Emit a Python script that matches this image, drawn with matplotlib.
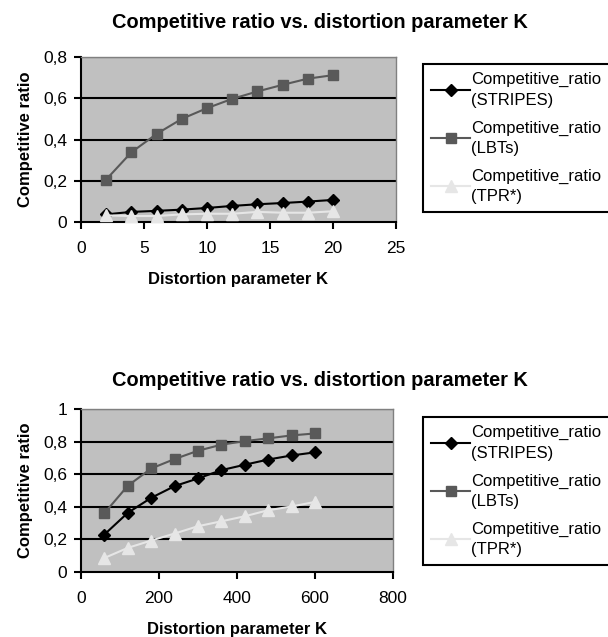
import matplotlib.pyplot as plt
from matplotlib.ticker import FuncFormatter

plt.rcParams['font.family'] = ['Liberation Sans', 'DejaVu Sans']

# top chart: small K
k_small = [2, 4, 6, 8, 10, 12, 14, 16, 18, 20]
stripes_small = [0.037, 0.049, 0.054, 0.060, 0.068, 0.078, 0.086, 0.092, 0.099, 0.107]
lbts_small = [0.206, 0.338, 0.427, 0.500, 0.552, 0.597, 0.633, 0.665, 0.695, 0.712]
tpr_small = [0.032, 0.029, 0.029, 0.037, 0.040, 0.040, 0.049, 0.045, 0.045, 0.052]

# bottom chart: large K
k_large = [60, 120, 180, 240, 300, 360, 420, 480, 540, 600]
stripes_large = [0.230, 0.363, 0.455, 0.527, 0.574, 0.625, 0.658, 0.690, 0.715, 0.734]
lbts_large = [0.361, 0.529, 0.635, 0.693, 0.744, 0.781, 0.803, 0.820, 0.838, 0.850]
tpr_large = [0.086, 0.148, 0.193, 0.236, 0.281, 0.311, 0.342, 0.379, 0.402, 0.430]

labels = ['Competitive_ratio\n(STRIPES)', 'Competitive_ratio\n(LBTs)', 'Competitive_ratio\n(TPR*)']
title = 'Competitive ratio vs. distortion parameter K'

W, H = 608, 637
fig = plt.figure(figsize=(W / 100, H / 100), dpi=100)


def comma(v, pos):
    s = ('%.1f' % v).rstrip('0').rstrip('.')
    return s.replace('.', ',')


def draw(rect, k, stripes, lbts, tpr, xmax, xstep, ymax, title_y, leg_top):
    ax = fig.add_axes(rect)
    ax.set_facecolor('#c0c0c0')
    h1, = ax.plot(k, stripes, color='black', lw=1.5, marker='D', ms=6, zorder=4)
    h2, = ax.plot(k, lbts, color='#595959', lw=1.5, marker='s', ms=7, zorder=4)
    h3, = ax.plot(k, tpr, color='#e6e6e6', lw=1.5, marker='^', ms=8, zorder=4)
    ax.set_xlim(0, xmax)
    ax.set_ylim(0, ymax)
    ax.set_xticks(range(0, xmax + 1, xstep))
    yt = [i * 0.2 for i in range(int(round(ymax / 0.2)) + 1)]
    ax.set_yticks(yt)
    ax.yaxis.set_major_formatter(FuncFormatter(comma))
    for y in yt[1:]:
        ax.axhline(y, color='black', lw=1.5, zorder=2)
    ax.tick_params(direction='out', length=5, width=1.5, labelsize=12.5)
    ax.tick_params(axis='x', pad=9)
    ax.tick_params(axis='y', pad=5)
    for s in ['left', 'bottom']:
        ax.spines[s].set_linewidth(1.5)
    for s in ['top', 'right']:
        ax.spines[s].set_color('#808080')
        ax.spines[s].set_linewidth(1)
    ax.set_xlabel('Distortion parameter K', fontsize=12, fontweight='bold', labelpad=11)
    ax.set_ylabel('Competitive ratio', fontsize=12, fontweight='bold', labelpad=7)
    fig.text(320 / W, 1 - title_y / H, title, fontsize=14.4, fontweight='bold',
             ha='center', va='center')
    leg = ax.legend([h1, h2, h3], labels, loc='upper left',
                    bbox_to_anchor=(423 / W, 1 - leg_top / H), bbox_transform=fig.transFigure,
                    fontsize=12, frameon=True, fancybox=False, edgecolor='black',
                    framealpha=1, handlelength=2.3, handletextpad=0.1, labelspacing=0.75,
                    borderpad=0.5, borderaxespad=0)
    for t in leg.get_texts():
        t.set_linespacing(1.45)
    leg.get_frame().set_linewidth(1.5)
    return ax


draw([81 / W, 1 - 222 / H, 315 / W, 165 / H], k_small, stripes_small, lbts_small, tpr_small,
     25, 5, 0.8, 22, 64)
draw([81 / W, 1 - 572 / H, 312 / W, 163 / H], k_large, stripes_large, lbts_large, tpr_large,
     800, 200, 1.0, 381, 417)

fig.savefig('out.png', dpi=100)
